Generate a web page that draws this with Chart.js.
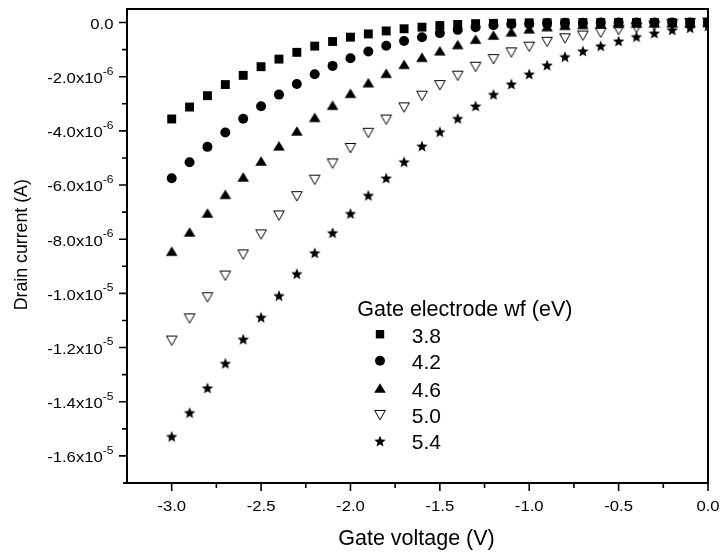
<!DOCTYPE html>
<html>
<head>
<meta charset="utf-8">
<script src="https://cdn.jsdelivr.net/npm/chart.js@4.4.1/dist/chart.umd.min.js"></script>
<style>
    body { margin: 0; background: #fff; }
    #wrap { width: 721px; height: 553px; }
</style>
</head>
<body>
<div id="wrap"><canvas id="iv-chart" width="721" height="553"></canvas></div>
<script>
// gate voltage (V)
const gateVoltage = [-3.0, -2.9, -2.8, -2.7, -2.6, -2.5, -2.4, -2.3, -2.2, -2.1, -2.0,
    -1.9, -1.8, -1.7, -1.6, -1.5, -1.4, -1.3, -1.2, -1.1, -1.0,
    -0.9, -0.8, -0.7, -0.6, -0.5, -0.4, -0.3, -0.2, -0.1, 0.0];

// drain current, in units of 1e-6 A
const wf38 = [-3.56, -3.12, -2.70, -2.29, -1.95, -1.63, -1.35, -1.10, -0.87, -0.70, -0.54,
    -0.42, -0.31, -0.23, -0.17, -0.11, -0.07, -0.04, -0.03, -0.02, -0.01,
    -0.01, -0.01, 0, 0, 0, 0, 0, 0, 0, 0];
const wf42 = [-5.75, -5.16, -4.59, -4.06, -3.55, -3.09, -2.66, -2.27, -1.91, -1.60, -1.32,
    -1.07, -0.86, -0.68, -0.54, -0.39, -0.27, -0.17, -0.10, -0.06, -0.04,
    -0.02, -0.01, -0.01, 0, 0, 0, 0, 0, 0, 0];
const wf46 = [-8.44, -7.73, -7.03, -6.34, -5.70, -5.11, -4.55, -4.00, -3.50, -3.05, -2.61,
    -2.22, -1.87, -1.54, -1.28, -1.04, -0.81, -0.61, -0.46, -0.34, -0.23,
    -0.15, -0.10, -0.07, -0.05, -0.03, -0.02, -0.01, -0.01, 0, 0];
const wf50 = [-11.74, -10.92, -10.14, -9.34, -8.56, -7.82, -7.12, -6.41, -5.80, -5.20, -4.63,
    -4.07, -3.58, -3.13, -2.70, -2.31, -1.96, -1.63, -1.35, -1.10, -0.89,
    -0.71, -0.58, -0.48, -0.37, -0.27, -0.19, -0.11, -0.05, -0.01, 0];
const wf54 = [-15.28, -14.40, -13.49, -12.58, -11.69, -10.88, -10.08, -9.27, -8.50, -7.76, -7.05,
    -6.38, -5.74, -5.14, -4.56, -4.03, -3.54, -3.08, -2.65, -2.27, -1.90,
    -1.57, -1.26, -1.05, -0.86, -0.68, -0.52, -0.39, -0.27, -0.19, -0.12];

const wfLabels = ["3.8", "4.2", "4.6", "5.0", "5.4"];

const xTicks = [-3.0, -2.5, -2.0, -1.5, -1.0, -0.5, 0.0];
const xTickLabels = ["-3.0", "-2.5", "-2.0", "-1.5", "-1.0", "-0.5", "0.0"];
const xMinorTicks = [-2.75, -2.25, -1.75, -1.25, -0.75, -0.25];

const yTicks = [0, -2, -4, -6, -8, -10, -12, -14, -16];
const yTickMantissa = ["0.0", "-2.0x10", "-4.0x10", "-6.0x10", "-8.0x10",
    "-1.0x10", "-1.2x10", "-1.4x10", "-1.6x10"];
const yTickExponent = ["", "-6", "-6", "-6", "-6", "-5", "-5", "-5", "-5"];
const yMinorTicks = [-1, -3, -5, -7, -9, -11, -13, -15];

const FONT = '"Liberation Sans", Arial, sans-serif';

function makeMarker(kind) {
    const c = document.createElement("canvas");
    c.width = 14;
    c.height = 14;
    const g = c.getContext("2d");
    g.fillStyle = "#000";
    g.strokeStyle = "#000";
    g.beginPath();
    if (kind === "up") {
        g.moveTo(7, 2.2);
        g.lineTo(12.8, 11.8);
        g.lineTo(1.2, 11.8);
        g.closePath();
        g.fill();
    } else if (kind === "down") {
        g.lineWidth = 1;
        g.moveTo(1.7, 2.5);
        g.lineTo(12.3, 2.5);
        g.lineTo(7, 11.8);
        g.closePath();
        g.stroke();
    } else {
        const R = 6, r = 2.6, cy = 7.6;
        for (let k = 0; k < 10; k++) {
            const ang = (-90 + k * 36) * Math.PI / 180;
            const rad = k % 2 === 0 ? R : r;
            const px = 7 + rad * Math.cos(ang), py = cy + rad * Math.sin(ang);
            if (k === 0) g.moveTo(px, py); else g.lineTo(px, py);
        }
        g.closePath();
        g.fill();
    }
    return c;
}

const triUp = makeMarker("up");
const triDown = makeMarker("down");
const star = makeMarker("star");

function toPoints(values) {
    return gateVoltage.map((v, i) => ({x: v, y: values[i]}));
}

function stretchedText(ctx, str, x, y, size, align, sx) {
    ctx.save();
    ctx.font = size + "px " + FONT;
    ctx.textAlign = align;
    ctx.textBaseline = "alphabetic";
    ctx.translate(x, y);
    ctx.scale(sx, 1);
    ctx.fillText(str, 0, 0);
    ctx.restore();
}

const framePlugin = {
    id: "frame",
    afterDraw(chart) {
        const ctx = chart.ctx;
        const xs = chart.scales.x, ys = chart.scales.y;
        const a = chart.chartArea;
        ctx.save();
        ctx.strokeStyle = "#000";
        ctx.fillStyle = "#000";
        ctx.lineWidth = 2;
        ctx.strokeRect(a.left, a.top, a.right - a.left, a.bottom - a.top);
        ctx.beginPath();
        ctx.moveTo(a.left - 4, a.bottom);
        ctx.lineTo(a.left, a.bottom);
        ctx.stroke();

        // x ticks
        ctx.lineWidth = 1.6;
        ctx.beginPath();
        xTicks.forEach(v => {
            const px = xs.getPixelForValue(v);
            ctx.moveTo(px, a.bottom);
            ctx.lineTo(px, a.bottom + 8);
        });
        xMinorTicks.forEach(v => {
            const px = xs.getPixelForValue(v);
            ctx.moveTo(px, a.bottom);
            ctx.lineTo(px, a.bottom + 5);
        });
        // y ticks
        yTicks.forEach(v => {
            const py = ys.getPixelForValue(v);
            ctx.moveTo(a.left, py);
            ctx.lineTo(a.left - 8, py);
        });
        yMinorTicks.forEach(v => {
            const py = ys.getPixelForValue(v);
            ctx.moveTo(a.left, py);
            ctx.lineTo(a.left - 5, py);
        });
        ctx.stroke();

        // x tick labels
        xTicks.forEach((v, i) => {
            stretchedText(ctx, xTickLabels[i], xs.getPixelForValue(v), a.bottom + 28, 14.5, "center", 1.15);
        });

        // y tick labels with superscript exponents
        const rightEdge = a.left - 13.5;
        yTicks.forEach((v, i) => {
            const base = ys.getPixelForValue(v) + 6.3;
            let expW = 0;
            if (yTickExponent[i]) {
                ctx.font = "10.5px " + FONT;
                expW = ctx.measureText(yTickExponent[i]).width * 1.15;
                stretchedText(ctx, yTickExponent[i], rightEdge - expW, base - 8.5, 10.5, "left", 1.15);
            }
            stretchedText(ctx, yTickMantissa[i], rightEdge - expW, base, 14.5, "right", 1.15);
        });

        // axis titles
        ctx.font = "21.5px " + FONT;
        ctx.textAlign = "center";
        ctx.textBaseline = "alphabetic";
        ctx.fillText("Gate voltage (V)", 416.5, 545);

        ctx.save();
        ctx.font = "19px " + FONT;
        const titleW = ctx.measureText("Drain current (A)").width;
        ctx.translate(26.5, 244.7);
        ctx.rotate(-Math.PI / 2);
        ctx.scale(131 / titleW, 1);
        ctx.textAlign = "center";
        ctx.fillText("Drain current (A)", 0, 0);
        ctx.restore();

        // legend
        ctx.font = "21.5px " + FONT;
        ctx.textAlign = "left";
        ctx.fillText("Gate electrode wf (eV)", 357.3, 316);
        const rowBase = [342.7, 369.3, 396.7, 423.3, 449.3];
        ctx.font = "21px " + FONT;
        rowBase.forEach((b, i) => {
            const cx = 380, cy = b - 8.5;
            ctx.fillText(wfLabels[i], 411.7, b);
            if (i === 0) {
                ctx.fillRect(cx - 4.2, cy - 4.2, 8.4, 8.4);
            } else if (i === 1) {
                ctx.beginPath();
                ctx.arc(cx, cy, 5, 0, Math.PI * 2);
                ctx.fill();
            } else {
                const img = [triUp, triDown, star][i - 2];
                ctx.drawImage(img, Math.round(cx - 7), Math.round(cy - 7));
            }
        });
        ctx.restore();
    }
};

const ivChart = new Chart(
    document.getElementById("iv-chart"),
    {
        type: "scatter",
        data: {
            datasets: [
                {label: wfLabels[0], data: toPoints(wf38), pointStyle: "rect", pointRadius: 6.3, borderWidth: 0},
                {label: wfLabels[1], data: toPoints(wf42), pointStyle: "circle", pointRadius: 5, borderWidth: 0},
                {label: wfLabels[2], data: toPoints(wf46), pointStyle: triUp, pointRadius: 5, borderWidth: 0},
                {label: wfLabels[3], data: toPoints(wf50), pointStyle: triDown, pointRadius: 5, borderWidth: 0},
                {label: wfLabels[4], data: toPoints(wf54), pointStyle: star, pointRadius: 5, borderWidth: 0}
            ].map(ds => Object.assign(ds, {
                backgroundColor: "#000",
                borderColor: "#000",
                pointHoverRadius: ds.pointRadius,
                clip: 0
            }))
        },
        options: {
            responsive: false,
            animation: false,
            layout: {
                padding: {top: 9, right: 13, left: 0, bottom: 0}
            },
            scales: {
                x: {
                    type: "linear",
                    min: -3.25,
                    max: 0,
                    ticks: {display: false},
                    grid: {display: false},
                    border: {display: false},
                    afterFit: scale => { scale.height = 70; }
                },
                y: {
                    type: "linear",
                    min: -17,
                    max: 0.5,
                    ticks: {display: false},
                    grid: {display: false},
                    border: {display: false},
                    afterFit: scale => { scale.width = 127; }
                }
            },
            plugins: {
                legend: {display: false},
                tooltip: {enabled: false}
            }
        },
        plugins: [framePlugin]
    }
);
</script>
</body>
</html>
